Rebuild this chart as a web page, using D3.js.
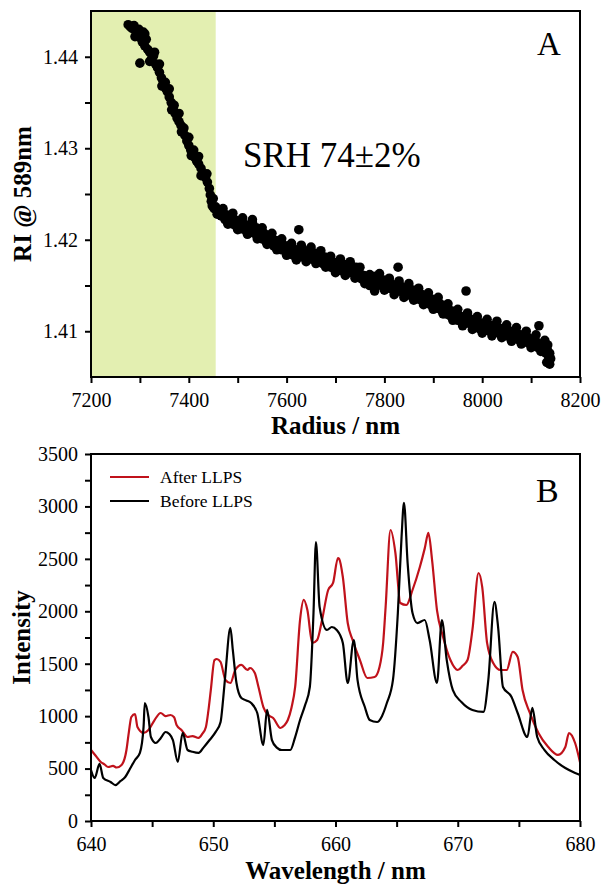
<!DOCTYPE html>
<html>
<head>
<meta charset="utf-8">
<script src="https://cdn.jsdelivr.net/npm/d3@7"></script>
<style>
  html, body { margin: 0; padding: 0; background: #fff; }
  svg { display: block; }
  text { font-family: "Liberation Serif", "Times New Roman", serif; fill: #000; }
</style>
</head>
<body>
<svg id="chart" width="604" height="886"></svg>
<script>
// ---------- Panel A data ----------
const radiusTicks = [7200, 7400, 7600, 7800, 8000, 8200];
const riTicks = [1.41, 1.42, 1.43, 1.44];
const shadedRange = [7200, 7455];
const srhLabel = "SRH 74\u00B12%";
// [radius (nm), RI @ 589 nm]
const riPoints = [
  [7276,1.4435],[7280,1.4433],[7284,1.4431],[7288,1.4434],[7292,1.4428],[7295,1.4425],[7298,1.4430],
  [7300,1.4421],[7300,1.4393],[7303,1.4424],[7305,1.4416],[7307,1.4427],[7310,1.4412],[7313,1.4419],
  [7316,1.4408],[7320,1.4405],[7324,1.4398],[7328,1.4401],[7330,1.4405],[7332,1.4392],[7336,1.4388],
  [7340,1.4383],[7344,1.4377],[7348,1.4372],[7352,1.4366],[7352,1.4372],[7356,1.4362],[7360,1.4356],
  [7364,1.4350],[7368,1.4344],[7370,1.4347],[7372,1.4338],[7376,1.4333],[7380,1.4329],[7384,1.4325],
  [7388,1.4319],[7390,1.4322],[7392,1.4314],[7396,1.4308],[7400,1.4303],[7404,1.4298],[7408,1.4294],
  [7410,1.4298],[7412,1.4290],[7416,1.4286],[7420,1.4283],[7425,1.4278],[7430,1.4272],[7434,1.4268],
  [7438,1.4263],[7442,1.4256],[7444,1.4249],[7446,1.4242],[7448,1.4237],[7452,1.4234],
  [7455,1.4236],[7458,1.4228],[7462,1.4232],[7466,1.4226],[7470,1.4230],[7474,1.4222],[7478,1.4227],
  [7482,1.4220],[7486,1.4225],[7490,1.4217],[7494,1.4222],[7498,1.4214],[7502,1.4220],[7506,1.4212],
  [7510,1.4219],[7514,1.4211],[7518,1.4216],[7522,1.4208],[7526,1.4215],[7530,1.4222],[7534,1.4207],
  [7538,1.4213],[7542,1.4204],[7546,1.4210],[7550,1.4201],[7554,1.4207],[7558,1.4198],[7562,1.4205],
  [7566,1.4196],[7570,1.4202],[7574,1.4193],[7578,1.4199],[7582,1.4191],[7586,1.4197],[7590,1.4189],
  [7594,1.4194],[7598,1.4187],[7602,1.4193],[7606,1.4185],[7610,1.4190],[7614,1.4183],[7618,1.4189],
  [7622,1.4182],[7625,1.4211],[7630,1.4190],[7634,1.4181],[7638,1.4188],[7642,1.4180],[7646,1.4187],
  [7650,1.4179],[7654,1.4186],[7658,1.4178],[7662,1.4185],[7666,1.4176],[7670,1.4183],[7674,1.4174],
  [7678,1.4181],[7682,1.4172],[7686,1.4178],[7690,1.4170],[7694,1.4176],[7698,1.4168],[7702,1.4175],
  [7706,1.4167],[7710,1.4174],[7714,1.4166],[7718,1.4173],[7722,1.4165],[7726,1.4172],[7730,1.4164],
  [7734,1.4171],[7738,1.4166],[7742,1.4170],[7746,1.4160],[7750,1.4163],[7754,1.4157],[7758,1.4161],
  [7762,1.4153],[7766,1.4158],[7770,1.4150],[7774,1.4156],[7778,1.4154],[7782,1.4160],[7786,1.4152],
  [7790,1.4158],[7794,1.4150],[7798,1.4156],[7802,1.4149],[7806,1.4154],[7810,1.4147],[7814,1.4152],
  [7818,1.4145],[7822,1.4150],[7828,1.4170],[7830,1.4144],[7834,1.4149],[7838,1.4142],[7842,1.4147],
  [7846,1.4140],[7850,1.4146],[7854,1.4139],[7858,1.4145],[7862,1.4137],[7866,1.4143],[7870,1.4135],
  [7874,1.4141],[7878,1.4133],[7882,1.4139],[7886,1.4131],[7890,1.4137],[7894,1.4129],[7898,1.4135],
  [7902,1.4127],[7906,1.4133],[7910,1.4125],[7914,1.4130],[7918,1.4122],[7922,1.4128],[7926,1.4119],
  [7930,1.4125],[7934,1.4117],[7938,1.4122],[7942,1.4114],[7946,1.4119],[7950,1.4112],[7954,1.4117],
  [7958,1.4110],[7962,1.4115],[7967,1.4144],[7970,1.4109],[7974,1.4114],[7978,1.4107],[7982,1.4112],
  [7986,1.4105],[7990,1.4110],[7994,1.4103],[7998,1.4109],[8002,1.4102],[8006,1.4108],[8010,1.4101],
  [8014,1.4107],[8018,1.4100],[8022,1.4106],[8026,1.4099],[8030,1.4105],[8034,1.4098],[8038,1.4103],
  [8042,1.4097],[8046,1.4102],[8050,1.4095],[8054,1.4101],[8058,1.4094],[8062,1.4099],[8066,1.4092],
  [8070,1.4098],[8074,1.4091],[8078,1.4096],[8082,1.4089],[8086,1.4095],[8090,1.4088],[8094,1.4093],
  [8098,1.4086],[8102,1.4091],[8106,1.4084],[8110,1.4089],[8114,1.4082],[8116,1.4106],[8118,1.4086],
  [8122,1.4080],[8126,1.4084],[8128,1.4090],[8130,1.4076],[8132,1.4066],[8133,1.4080],[8134,1.4085],
  [8136,1.4072],[8138,1.4076],[8138,1.4064],[8140,1.4070],
  // points at the edges of the band
  [7290,1.4422],[7310,1.4425],[7320,1.4395],[7340,1.4392],[7345,1.4368],[7360,1.4365],[7365,1.4342],
  [7380,1.4338],[7385,1.4318],[7400,1.4312],[7405,1.4292],[7420,1.4291],[7425,1.4270],[7437,1.4272],
  [7450,1.4245],
  [7470,1.4234],[7480,1.4217],[7490,1.4229],[7500,1.4211],[7510,1.4224],[7520,1.4206],[7530,1.4219],
  [7540,1.4201],[7550,1.4213],[7560,1.4195],[7570,1.4207],[7580,1.4189],[7590,1.4201],[7600,1.4183],
  [7610,1.4196],[7620,1.4178],[7630,1.4194],[7640,1.4176],[7650,1.4192],[7660,1.4174],[7670,1.4188],
  [7680,1.4170],[7690,1.4182],[7700,1.4164],[7710,1.4179],[7720,1.4161],[7730,1.4176],[7740,1.4158],
  [7750,1.4170],[7760,1.4152],[7770,1.4162],[7780,1.4144],[7790,1.4163],[7800,1.4145],[7810,1.4158],
  [7820,1.4140],[7830,1.4155],[7840,1.4137],[7850,1.4152],[7860,1.4134],[7870,1.4147],[7880,1.4129],
  [7890,1.4142],[7900,1.4124],[7910,1.4137],[7920,1.4119],[7930,1.4130],[7940,1.4112],[7950,1.4124],
  [7960,1.4106],[7970,1.4120],[7980,1.4102],[7990,1.4116],[8000,1.4098],[8010,1.4113],[8020,1.4095],
  [8030,1.4111],[8040,1.4093],[8050,1.4107],[8060,1.4089],[8070,1.4104],[8080,1.4086],[8090,1.4100],
  [8100,1.4082],[8110,1.4096],[8120,1.4078]
];

// ---------- Panel B data ----------
const wavelengthTicks = [640, 650, 660, 670, 680];
const intensityTicks = [0, 500, 1000, 1500, 2000, 2500, 3000, 3500];
const seriesNames = ["After LLPS", "Before LLPS"];
const seriesColors = ["#c0121b", "#000000"];
// [wavelength (nm), intensity]
const afterLLPS = [
  [640.0,677],[640.4,620],[640.8,563],[641.1,540],[641.4,515],[641.8,525],[642.1,510],[642.5,534],
  [642.9,677],[643.1,850],[643.3,992],[643.6,1020],[643.8,897],[644.3,840],[644.7,868],[645.2,963],
  [645.7,1030],[646.1,1000],[646.5,1011],[646.8,990],[647.0,915],[647.4,868],[647.9,801],[648.3,810],
  [648.8,792],[649.1,830],[649.4,897],[649.6,1050],[649.8,1249],[650.1,1535],[650.3,1545],[650.6,1516],
  [651.0,1345],[651.4,1316],[651.8,1440],[652.3,1488],[652.8,1440],[653.0,1459],[653.4,1411],[653.7,1278],
  [654.1,1087],[654.5,1010],[654.9,982],[655.5,887],[655.8,910],[656.1,963],[656.4,1080],[656.7,1278],
  [657.1,1917],[657.4,2108],[657.7,2012],[658.1,1698],[658.5,1726],[658.9,1917],[659.4,2203],[659.8,2270],
  [660.2,2508],[660.3,2500],[660.6,2327],[661.0,1888],[661.4,1726],[662.0,1535],[662.6,1364],[663.2,1373],
  [663.6,1469],[663.9,1700],[664.1,2041],[664.5,2775],[664.9,2556],[665.3,2079],[665.8,2060],[666.3,2203],
  [666.9,2422],[667.3,2600],[667.6,2747],[667.9,2489],[668.3,2012],[668.8,1755],[669.4,1535],[670.0,1440],
  [670.4,1480],[670.8,1535],[671.2,1822],[671.7,2365],[672.0,2232],[672.4,1698],[672.9,1507],[673.5,1440],
  [674.0,1440],[674.5,1612],[674.9,1564],[675.3,1249],[675.9,1030],[676.6,839],[677.4,706],[678.2,630],
  [678.8,706],[679.1,839],[679.6,744],[680.0,560]
];
const beforeLLPS = [
  [640.0,486],[640.3,410],[640.7,544],[641.0,410],[641.6,372],[642.0,343],[642.4,380],[642.8,420],
  [643.2,500],[643.6,582],[644.0,649],[644.3,897],[644.4,1125],[644.7,992],[644.9,801],[645.3,744],
  [645.7,790],[646.1,849],[646.4,830],[646.7,772],[647.1,563],[647.5,840],[647.9,677],[648.3,660],
  [648.8,649],[649.2,700],[649.7,772],[650.2,850],[650.6,944],[650.8,1150],[651.0,1411],[651.4,1841],
  [651.6,1631],[651.9,1316],[652.3,1173],[652.7,1150],[653.1,1125],[653.6,1030],[654.1,725],[654.4,1059],
  [654.8,772],[655.2,700],[655.6,677],[656.3,677],[656.7,800],[657.1,963],[657.5,1100],[657.9,1278],
  [658.2,1984],[658.4,2661],[658.7,2041],[659.3,1822],[659.7,1850],[660.1,1822],[660.6,1698],[661.0,1316],
  [661.5,1726],[661.8,1345],[662.4,1087],[662.8,963],[663.4,944],[663.8,1000],[664.2,1125],[664.7,1345],
  [665.1,1984],[665.4,2700],[665.6,3033],[665.9,2460],[666.3,1984],[666.7,1888],[667.3,1917],[667.7,1726],
  [668.3,1316],[668.7,1917],[669.1,1535],[669.6,1249],[670.3,1135],[671.2,1059],[672.1,1040],[672.5,1345],
  [673.0,2089],[673.3,1850],[673.7,1278],[674.4,1183],[674.9,1030],[675.7,801],[676.1,1078],[676.5,801],
  [677.1,677],[677.9,582],[678.8,505],[679.6,458],[680.0,439]
];

// ---------- Drawing ----------
const svg = d3.select("#chart");
const tickFont = 20;

function styleAxis(g) {
  g.select(".domain").remove();
  g.selectAll(".tick line").attr("stroke", "#000").attr("stroke-width", 2);
  g.selectAll(".tick text").style("font-family", "Liberation Serif, serif").style("font-size", tickFont + "px").attr("fill", "#000");
}
function midpoints(arr) {
  const m = [];
  for (let i = 0; i < arr.length - 1; i++) m.push((arr[i] + arr[i + 1]) / 2);
  return m;
}
function drawFrame(g, x0, x1, y0, y1) {
  g.append("rect").attr("x", x0).attr("y", y0).attr("width", x1 - x0).attr("height", y1 - y0)
    .attr("fill", "none").attr("stroke", "#000").attr("stroke-width", 2);
}

// ----- Panel A -----
(function () {
  const L = 91, R = 580, T = 11, B = 377;
  const x = d3.scaleLinear().domain([7200, 8200]).range([L, R]);
  const y = d3.scaleLinear().domain([1.405, 1.445]).range([B, T]);
  const g = svg.append("g");

  g.append("rect").attr("x", x(shadedRange[0])).attr("y", T)
    .attr("width", x(shadedRange[1]) - x(shadedRange[0])).attr("height", B - T)
    .attr("fill", "#e3efb1");

  g.append("g").selectAll("circle").data(riPoints).join("circle")
    .attr("cx", d => x(d[0])).attr("cy", d => y(d[1])).attr("r", 4.8).attr("fill", "#000");

  g.append("g").attr("transform", `translate(0,${B})`)
    .call(d3.axisBottom(x).tickValues(radiusTicks).tickFormat(d3.format("d")).tickSize(6).tickPadding(10))
    .call(styleAxis);
  g.append("g").attr("transform", `translate(0,${B})`)
    .call(d3.axisBottom(x).tickValues(midpoints(radiusTicks)).tickFormat("").tickSize(6))
    .call(styleAxis);
  g.append("g").attr("transform", `translate(${L},0)`)
    .call(d3.axisLeft(y).tickValues(riTicks).tickFormat(d3.format(".2f")).tickSize(6).tickPadding(7))
    .call(styleAxis);
  g.append("g").attr("transform", `translate(${L},0)`)
    .call(d3.axisLeft(y).tickValues([1.415, 1.425, 1.435]).tickFormat("").tickSize(6))
    .call(styleAxis);

  drawFrame(g, L, R, T, B);

  g.append("text").attr("x", 243).attr("y", 167).style("font-size", "35px").text(srhLabel);
  g.append("text").attr("x", 537).attr("y", 55).style("font-size", "33px").text("A");

  g.append("text").attr("x", (L + R) / 2).attr("y", 434).attr("text-anchor", "middle")
    .style("font-size", "25px").style("font-weight", "bold").text("Radius / nm");
  g.append("text").attr("transform", `translate(31,${(T + B) / 2}) rotate(-90)`).attr("text-anchor", "middle")
    .style("font-size", "25px").style("font-weight", "bold").text("RI @ 589nm");
})();

// ----- Panel B -----
(function () {
  const L = 91, R = 580, T = 454, B = 821;
  const x = d3.scaleLinear().domain([640, 680]).range([L, R]);
  const y = d3.scaleLinear().domain([0, 3500]).range([B, T]);
  const g = svg.append("g");

  svg.append("defs").append("clipPath").attr("id", "clipB")
    .append("rect").attr("x", L).attr("y", T).attr("width", R - L).attr("height", B - T);

  const line = d3.line().x(d => x(d[0])).y(d => y(d[1])).curve(d3.curveMonotoneX);
  const series = [afterLLPS, beforeLLPS];
  g.append("g").attr("clip-path", "url(#clipB)").selectAll("path").data(series).join("path")
    .attr("d", line).attr("fill", "none")
    .attr("stroke", (d, i) => seriesColors[i]).attr("stroke-width", 2.2).attr("stroke-linejoin", "round");

  g.append("g").attr("transform", `translate(0,${B})`)
    .call(d3.axisBottom(x).tickValues(wavelengthTicks).tickFormat(d3.format("d")).tickSize(6).tickPadding(10))
    .call(styleAxis);
  g.append("g").attr("transform", `translate(0,${B})`)
    .call(d3.axisBottom(x).tickValues(midpoints(wavelengthTicks)).tickFormat("").tickSize(6))
    .call(styleAxis);
  g.append("g").attr("transform", `translate(${L},0)`)
    .call(d3.axisLeft(y).tickValues(intensityTicks).tickFormat(d3.format("d")).tickSize(6).tickPadding(7))
    .call(styleAxis);
  g.append("g").attr("transform", `translate(${L},0)`)
    .call(d3.axisLeft(y).tickValues(midpoints(intensityTicks)).tickFormat("").tickSize(6))
    .call(styleAxis);

  drawFrame(g, L, R, T, B);

  const lg = g.append("g");
  seriesNames.forEach((name, i) => {
    const yy = 477 + i * 24;
    lg.append("line").attr("x1", 110).attr("x2", 149).attr("y1", yy).attr("y2", yy)
      .attr("stroke", seriesColors[i]).attr("stroke-width", 2.2);
    lg.append("text").attr("x", 160).attr("y", yy + 6).style("font-size", "17.5px").text(name);
  });

  g.append("text").attr("x", 536).attr("y", 502).style("font-size", "34px").text("B");

  g.append("text").attr("x", (L + R) / 2).attr("y", 879).attr("text-anchor", "middle")
    .style("font-size", "25px").style("font-weight", "bold").text("Wavelength / nm");
  g.append("text").attr("transform", `translate(30,${(T + B) / 2}) rotate(-90)`).attr("text-anchor", "middle")
    .style("font-size", "25px").style("font-weight", "bold").text("Intensity");
})();
</script>
</body>
</html>
